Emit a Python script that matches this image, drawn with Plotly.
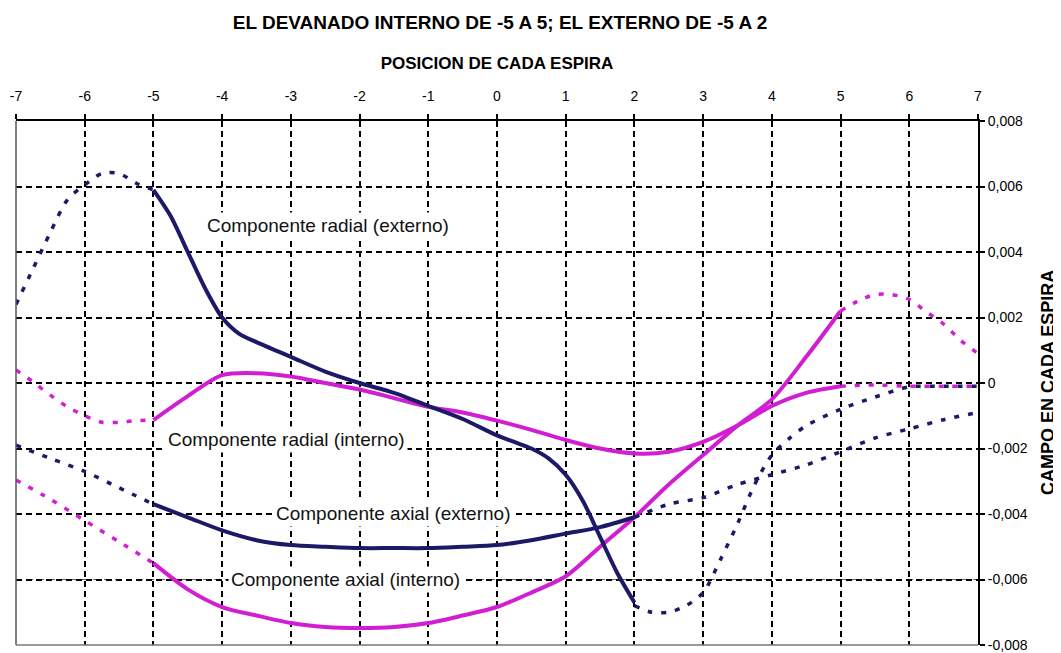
import plotly.graph_objects as go

# ---------------- data ----------------
title_text = "EL DEVANADO INTERNO DE -5 A 5; EL EXTERNO DE -5 A 2"
x_title = "POSICION DE CADA ESPIRA"
y_title = "CAMPO EN CADA ESPIRA"

x_tick_vals = [-7, -6, -5, -4, -3, -2, -1, 0, 1, 2, 3, 4, 5, 6, 7]
x_tick_labels = ["-7", "-6", "-5", "-4", "-3", "-2", "-1", "0", "1", "2", "3", "4", "5", "6", "7"]
y_tick_vals = [0.008, 0.006, 0.004, 0.002, 0, -0.002, -0.004, -0.006, -0.008]
y_tick_labels = ["0,008", "0,006", "0,004", "0,002", "0", "-0,002", "-0,004", "-0,006", "-0,008"]
light_grid_value = -0.006

# Componente radial (externo)
rad_ext_left_x = [-7, -6.75, -6.5, -6.25, -6, -5.75, -5.5, -5.25, -5]
rad_ext_left_y = [0.0024, 0.0035, 0.0046, 0.0056, 0.00605, 0.0064, 0.0064, 0.0061, 0.0059]
rad_ext_x = [-5, -4.75, -4.5, -4.25, -4, -3.75, -3.5, -3, -2.5, -2, -1.5, -1, -0.5, 0, 0.25, 0.5, 0.75, 1, 1.25, 1.5, 1.75, 2]
rad_ext_y = [0.0059, 0.0051, 0.0040, 0.0029, 0.0020, 0.0015, 0.00125, 0.0008, 0.00035, 0.0, -0.0003,
             -0.0007, -0.0011, -0.0016, -0.0018, -0.0020, -0.0023, -0.0028, -0.0036, -0.0047, -0.0058, -0.0067]
rad_ext_right_x = [2, 2.25, 2.5, 2.75, 3, 3.25, 3.5, 3.75, 4, 4.25, 4.5, 5, 5.5, 6, 6.5, 7]
rad_ext_right_y = [-0.0068, -0.0070, -0.0070, -0.0068, -0.0064, -0.0054, -0.0043, -0.0031, -0.0022,
                   -0.0017, -0.0013, -0.0008, -0.00043, -0.00012, -0.0001, -0.0001]

# Componente radial (interno)
rad_int_left_x = [-7, -6.75, -6.5, -6.25, -6, -5.75, -5.5, -5.25, -5]
rad_int_left_y = [0.0004, 0.00003, -0.00037, -0.00073, -0.001, -0.0012, -0.0012, -0.00115, -0.00113]
rad_int_x = [-5, -4.5, -4, -3.5, -3, -2.5, -2, -1.5, -1, -0.5, 0, 0.5, 1, 1.5, 2, 2.5, 3, 3.5, 4, 4.5, 5]
rad_int_y = [-0.00113, -0.0004, 0.00024, 0.0003, 0.0002, 0.0, -0.0002, -0.00046, -0.00073, -0.0009,
             -0.00115, -0.00143, -0.00174, -0.002, -0.00215, -0.0021, -0.0018, -0.0013, -0.0007, -0.0003, -0.0001]
rad_int_right_x = [5, 5.5, 6, 6.5, 7]
rad_int_right_y = [-0.0001, -0.00006, -0.0001, -0.0001, -0.0001]

# Componente axial (externo)
ax_ext_left_x = [-7, -6.5, -6, -5.5, -5]
ax_ext_left_y = [-0.0019, -0.0023, -0.0027, -0.0032, -0.0037]
ax_ext_x = [-5, -4.5, -4, -3.5, -3, -2.5, -2, -1.5, -1, -0.5, 0, 0.5, 1, 1.5, 2]
ax_ext_y = [-0.0037, -0.0041, -0.0045, -0.0048, -0.00495, -0.005, -0.00504, -0.00504, -0.00504,
            -0.005, -0.00495, -0.0048, -0.0046, -0.0044, -0.0041]
ax_ext_right_x = [2, 2.5, 3, 3.5, 4, 4.5, 5, 5.5, 6, 6.5, 7]
ax_ext_right_y = [-0.0041, -0.0037, -0.0035, -0.0031, -0.0028, -0.0025, -0.0021, -0.00168, -0.0014, -0.00112, -0.0009]

# Componente axial (interno)
ax_int_left_x = [-7, -6.5, -6, -5.5, -5]
ax_int_left_y = [-0.00296, -0.00355, -0.0042, -0.00485, -0.0055]
ax_int_x = [-5, -4.5, -4, -3.5, -3, -2.5, -2, -1.5, -1, -0.5, 0, 0.5, 1, 1.5, 2, 2.5, 3, 3.5, 4, 4.5, 5]
ax_int_y = [-0.0055, -0.0063, -0.00684, -0.0071, -0.00733, -0.00745, -0.00748, -0.00745, -0.00733, -0.0071,
            -0.00684, -0.0064, -0.0059, -0.005, -0.0041, -0.0031, -0.0022, -0.0013, -0.0005, 0.0008, 0.0022]
ax_int_right_x = [5, 5.25, 5.5, 5.75, 6, 6.25, 6.5, 6.75, 7]
ax_int_right_y = [0.0022, 0.0025, 0.0027, 0.0027, 0.00255, 0.00217, 0.0018, 0.0013, 0.0009]

label_texts = ["Componente radial (externo)", "Componente radial (interno)",
               "Componente axial (externo)", "Componente axial (interno)"]
label_x = [-2.46, -3.07, -1.51, -2.2]
label_y = [0.0048, -0.00174, -0.00397, -0.006]

# ---------------- style ----------------
NAVY = "#1c1a66"
MAGENTA = "#d21ed2"
FONT = "Liberation Sans, Arial, sans-serif"

# The page body has an 8px default margin, so the figure is 8px smaller
# than the window in each direction and margins are reduced accordingly.
FIG_W, FIG_H = 1053, 645

fig = go.Figure()


def add_curve(xl, yl, xs, ys, xr, yr, color):
    dotted = dict(color=color, width=3.5, dash="5px,9px", shape="spline", smoothing=0.8)
    solid = dict(color=color, width=4, shape="spline", smoothing=0.8)
    fig.add_trace(go.Scatter(x=xl, y=yl, mode="lines", line=dotted, showlegend=False, hoverinfo="skip"))
    fig.add_trace(go.Scatter(x=xr, y=yr, mode="lines", line=dotted, showlegend=False, hoverinfo="skip"))
    fig.add_trace(go.Scatter(x=xs, y=ys, mode="lines", line=solid, showlegend=False))


add_curve(ax_int_left_x, ax_int_left_y, ax_int_x, ax_int_y, ax_int_right_x, ax_int_right_y, MAGENTA)
add_curve(rad_int_left_x, rad_int_left_y, rad_int_x, rad_int_y, rad_int_right_x, rad_int_right_y, MAGENTA)
add_curve(ax_ext_left_x, ax_ext_left_y, ax_ext_x, ax_ext_y, ax_ext_right_x, ax_ext_right_y, NAVY)
add_curve(rad_ext_left_x, rad_ext_left_y, rad_ext_x, rad_ext_y, rad_ext_right_x, rad_ext_right_y, NAVY)

for t, lx, ly in zip(label_texts, label_x, label_y):
    fig.add_annotation(x=lx, y=ly, xref="x", yref="y", text=t, showarrow=False,
                       font=dict(family=FONT, size=19, color="#111111"),
                       bgcolor="white", borderpad=2)

# vertical axis title on the right
fig.add_annotation(x=1.0728, y=0.5, xref="paper", yref="paper", text="<b>" + y_title + "</b>",
                   textangle=-90, showarrow=False, xanchor="center", yanchor="middle",
                   font=dict(family=FONT, size=18, color="black"))

# the lower gridline is drawn lighter in the original
fig.add_shape(type="line", xref="paper", yref="y", x0=0, x1=1, y0=light_grid_value, y1=light_grid_value,
              line=dict(color="white", width=3), layer="below")
fig.add_shape(type="line", xref="paper", yref="y", x0=0, x1=1, y0=light_grid_value, y1=light_grid_value,
              line=dict(color="#666666", width=1, dash="6px,5px"), layer="below")

# left and bottom frame lines
fig.add_shape(type="line", xref="paper", yref="paper", x0=0, x1=0, y0=0, y1=1,
              line=dict(color="#555555", width=1.5))
fig.add_shape(type="line", xref="paper", yref="paper", x0=0, x1=1, y0=0, y1=0,
              line=dict(color="#777777", width=1.5))

fig.update_layout(
    width=FIG_W, height=FIG_H,
    margin=dict(l=8, r=83, t=113, b=8, autoexpand=False),
    paper_bgcolor="white", plot_bgcolor="white",
    font=dict(family=FONT, color="black"),
    title=dict(text="<b>" + title_text + "</b>", x=492 / FIG_W, xanchor="center",
               y=1 - 14 / FIG_H, yanchor="middle", yref="container",
               font=dict(family=FONT, size=19, color="black")),
    xaxis=dict(
        side="top", range=[-7, 7], tickvals=x_tick_vals, ticktext=x_tick_labels,
        showline=True, linecolor="black", linewidth=2, automargin=False,
        ticks="outside", ticklen=5, tickwidth=2, tickcolor="black", ticklabelstandoff=7,
        showgrid=True, gridcolor="black", gridwidth=2, griddash="6px,4px",
        zeroline=False,
        tickfont=dict(family=FONT, size=14, color="black"),
        title=dict(text="<b>" + x_title + "</b>", standoff=14,
                   font=dict(family=FONT, size=17, color="black")),
    ),
    yaxis=dict(
        side="right", range=[-0.008, 0.008], tickvals=y_tick_vals, ticktext=y_tick_labels,
        showline=True, linecolor="black", linewidth=2, automargin=False,
        ticks="outside", ticklen=5, tickwidth=2, tickcolor="black",
        showgrid=True, gridcolor="black", gridwidth=2, griddash="6px,4px",
        zeroline=False,
        tickfont=dict(family=FONT, size=14, color="black"),
    ),
)

fig.write_html("out.html")
